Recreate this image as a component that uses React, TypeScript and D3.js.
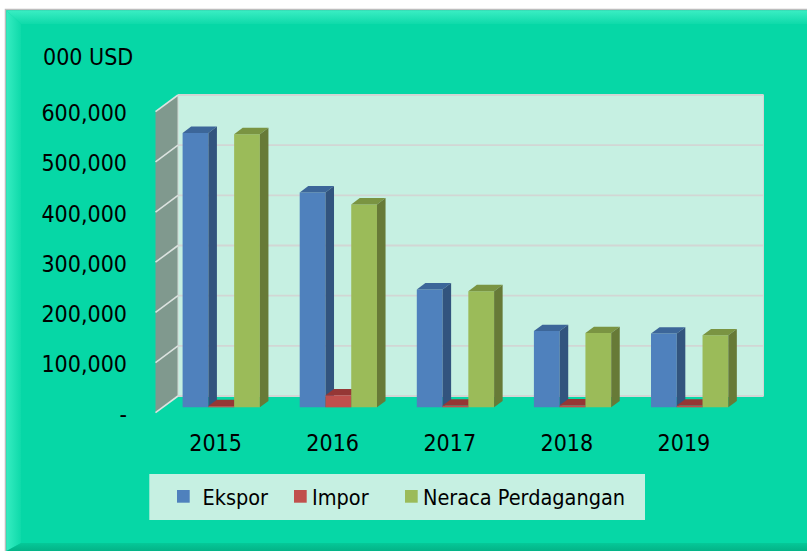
import { useMemo } from "react";
import * as d3 from "d3";

const YEARS = ["2015", "2016", "2017", "2018", "2019"];
const SERIES = ["Ekspor", "Impor", "Neraca Perdagangan"];
const EKSPOR = [547000, 428500, 235000, 152000, 147000];
const IMPOR = [2500, 24000, 3500, 4000, 3500];
const NERACA = [544500, 404500, 231500, 148000, 143500];
const Y_TICKS = [0, 100000, 200000, 300000, 400000, 500000, 600000];
const Y_TITLE = "000 USD";

const FRONT = { left: 155.5, right: 741, bottom: 412.7, top: 111.7 };
const DX = 22.5;
const DY = 16.7;
const D0 = 0.32;
const D1 = 0.7;

const FONT = "'DejaVu Sans Condensed', 'DejaVu Sans', sans-serif";
const BG = "#06D7A6";
const WALL = "#C6F0E2";
const GRID = "#D2D6D4";

const FACES = [
    { front: "#4F81BD", top: "#3C6699", side: "#32547E" },
    { front: "#C0504D", top: "#953735", side: "#7E2D2B" },
    { front: "#9BBB59", top: "#7A9442", side: "#677A37" },
];

const fmt = (v: number) => (v === 0 ? "-" : d3.format(",")(v));

export default function App() {
    const values = [EKSPOR, IMPOR, NERACA];

    const x0 = useMemo(
        () => d3.scaleBand<string>().domain(YEARS).range([FRONT.left, FRONT.right]),
        []
    );
    const y = useMemo(
        () => d3.scaleLinear().domain([0, 600000]).range([FRONT.bottom, FRONT.top]),
        []
    );
    const groupW = x0.bandwidth() * 0.66;
    const x1 = d3.scaleBand<string>().domain(SERIES).range([0, groupW]);

    const proj = (xf: number, v: number, d: number): [number, number] => [xf + d * DX, y(v) - d * DY];
    const pts = (arr: [number, number][]) => arr.map((p) => p.join(",")).join(" ");

    const bars: JSX.Element[] = [];
    YEARS.forEach((yr, i) => {
        SERIES.forEach((s, k) => {
            const v = values[k][i];
            const xl = (x0(yr) as number) + (x0.bandwidth() - groupW) / 2 + (x1(s) as number);
            const xr = xl + x1.bandwidth();
            const c = FACES[k];
            bars.push(
                <g key={`${yr}-${s}`}>
                    <polygon
                        points={pts([proj(xl, 0, D0), proj(xr, 0, D0), proj(xr, v, D0), proj(xl, v, D0)])}
                        fill={c.front}
                    />
                    <polygon
                        points={pts([proj(xl, v, D0), proj(xr, v, D0), proj(xr, v, D1), proj(xl, v, D1)])}
                        fill={c.top}
                    />
                    <polygon
                        points={pts([proj(xr, 0, D0), proj(xr, 0, D1), proj(xr, v, D1), proj(xr, v, D0)])}
                        fill={c.side}
                    />
                </g>
            );
        });
    });

    const legendX = [177, 294, 405];

    return (
        <div style={{ position: "fixed", left: 0, top: 0 }}>
            <svg width={807} height={551} style={{ display: "block" }}>
                <defs>
                    <linearGradient id="bevTop" x1="0" y1="0" x2="0" y2="1">
                        <stop offset="0%" stopColor="#3AEDC3" />
                        <stop offset="100%" stopColor="#0FDAAA" />
                    </linearGradient>
                    <linearGradient id="bevLeft" x1="0" y1="0" x2="1" y2="0">
                        <stop offset="0%" stopColor="#36ECC1" />
                        <stop offset="100%" stopColor="#0FDAAA" />
                    </linearGradient>
                    <linearGradient id="bevBot" x1="0" y1="0" x2="0" y2="1">
                        <stop offset="0%" stopColor="#05C898" />
                        <stop offset="100%" stopColor="#03B387" />
                    </linearGradient>
                </defs>
                <rect x={0} y={0} width={807} height={551} fill="#fff" />
                <rect x={5.5} y={9.5} width={810} height={550} fill={BG} stroke="#BDBDBD" strokeWidth={1.5} />
                <polygon points="6.5,10.5 807,10.5 807,24 21,24" fill="url(#bevTop)" />
                <polygon points="6.5,10.5 21,24 21,543 6.5,551" fill="url(#bevLeft)" />
                <polygon points="6.5,551 21,543 807,543 807,551" fill="url(#bevBot)" />

                {/* side wall */}
                <polygon
                    points={pts([proj(FRONT.left, 0, 0), proj(FRONT.left, 0, 1), proj(FRONT.left, 600000, 1), proj(FRONT.left, 600000, 0)])}
                    fill="#80998E"
                />
                {/* back wall */}
                <polygon
                    points={pts([proj(FRONT.left, 0, 1), proj(FRONT.right, 0, 1), proj(FRONT.right, 600000, 1), proj(FRONT.left, 600000, 1)])}
                    fill={WALL}
                    stroke={GRID}
                    strokeWidth={1}
                />
                {Y_TICKS.map((t) => {
                    const a = proj(FRONT.left, t, 0);
                    const b = proj(FRONT.left, t, 1);
                    const c = proj(FRONT.right, t, 1);
                    return (
                        <g key={t}>
                            <line x1={a[0]} y1={a[1]} x2={b[0]} y2={b[1]} stroke="#DCE3E0" strokeWidth={1.6} />
                            <line x1={b[0]} y1={b[1]} x2={c[0]} y2={c[1]} stroke={GRID} strokeWidth={1.8} />
                        </g>
                    );
                })}

                {bars}

                <g fontFamily={FONT} fontSize={23} fill="#000">
                    <text x={43} y={65}>{Y_TITLE}</text>
                    {Y_TICKS.map((t) => (
                        <text key={t} x={127} y={y(t) + 9.5} textAnchor="end">
                            {fmt(t)}
                        </text>
                    ))}
                    {YEARS.map((yr) => (
                        <text key={yr} x={(x0(yr) as number) + x0.bandwidth() / 2 + 1.5} y={451} textAnchor="middle">
                            {yr}
                        </text>
                    ))}
                </g>

                <rect x={149.3} y={474} width={495.7} height={46} fill={WALL} />
                <g fontFamily={FONT} fontSize={21.5} fill="#000">
                    {SERIES.map((s, k) => (
                        <g key={s}>
                            <rect x={legendX[k]} y={490} width={12.7} height={12.7} fill={FACES[k].front} />
                            <text x={legendX[k] + (k === 0 ? 25.5 : 18)} y={505}>
                                {s}
                            </text>
                        </g>
                    ))}
                </g>
            </svg>
        </div>
    );
}
